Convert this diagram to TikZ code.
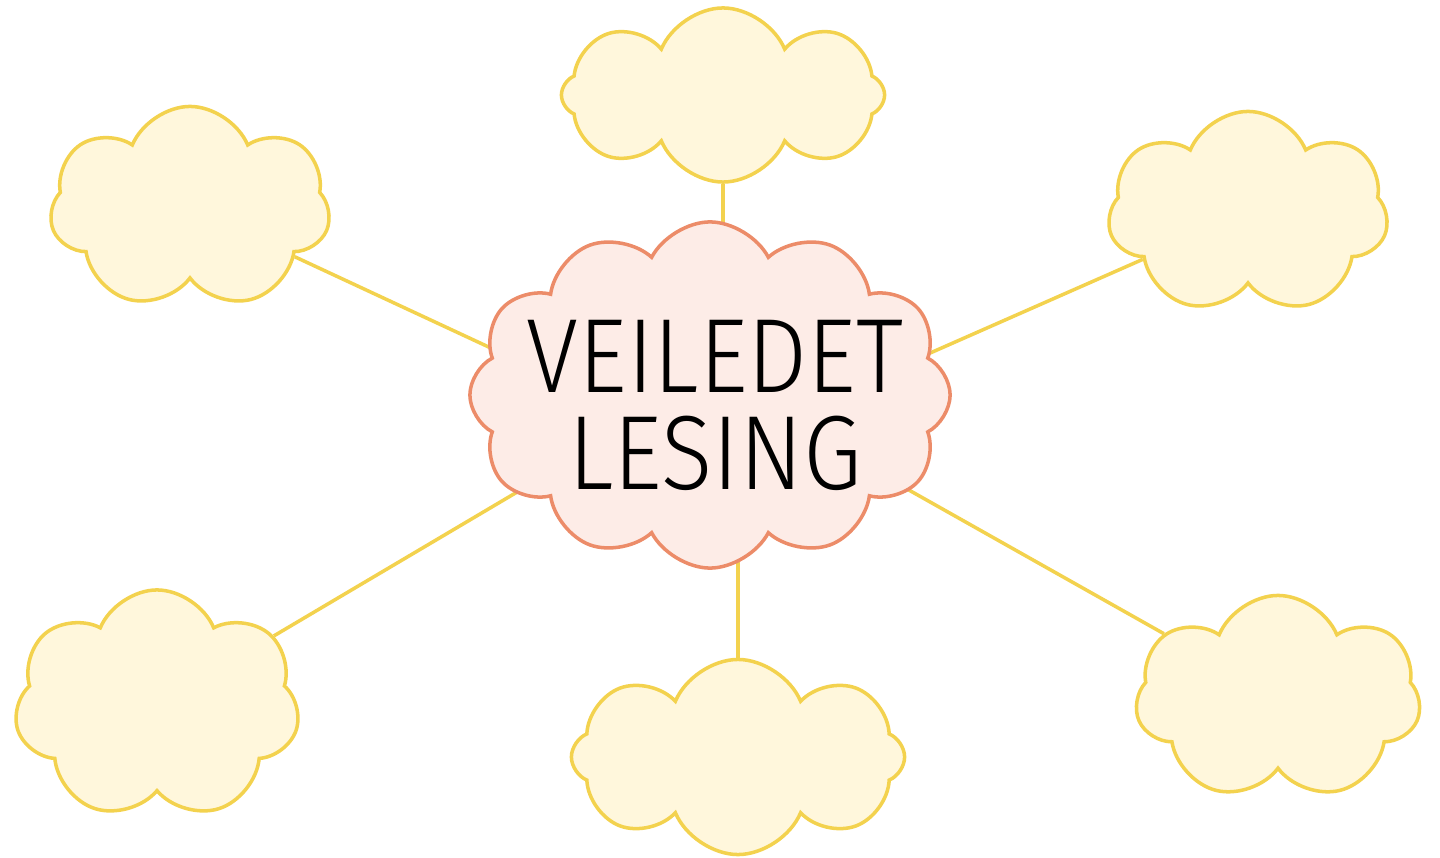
\documentclass[tikz,border=0pt]{standalone}
\usepackage{fontspec}
\newfontfamily\labelfont{Fira Sans Light}
\usetikzlibrary{shapes.symbols,backgrounds}
\definecolor{puffline}{RGB}{243,210,78}
\definecolor{pufffill}{RGB}{255,247,220}
\definecolor{hubline}{RGB}{236,140,105}
\definecolor{hubfill}{RGB}{253,236,231}
\tikzset{
  puff/.style={cloud, cloud puffs=#1, cloud puff arc=135, cloud ignores aspect,
    draw=puffline, fill=pufffill, line width=1pt, inner sep=0pt},
  puff/.default=7,
  hubcloud/.style={cloud, cloud puffs=12, cloud puff arc=125, cloud ignores aspect,
    draw=hubline, fill=hubfill, line width=1pt, inner sep=0pt,
    minimum width=4.8cm, minimum height=3.46cm},
  spoke/.style={draw=puffline, line width=1pt},
  titletext/.style={align=center, text=black, inner sep=0pt,
    font=\labelfont\fontsize{30}{27.6}\selectfont},
}

\begin{document}
\begin{tikzpicture}[x=0.01cm, y=-0.01cm]
  \useasboundingbox (0,0) rectangle (1440,858);
  % central cloud
  \node[hubcloud] (hub) at (710,395) {};
  \node[titletext] (title) at (715,405)
    {\scalebox{0.9}[1]{VEILEDET}\\\scalebox{0.9}[1]{LESING}};
  % outer clouds
  \node[puff=8, minimum width=3.23cm, minimum height=1.74cm, shape border rotate=10] (top) at (723,95) {};
  \node[puff, minimum width=2.8cm, minimum height=2.03cm, shape border rotate=20] (nw) at (190,208) {};
  \node[puff, minimum width=2.8cm, minimum height=2.03cm, shape border rotate=5] (ne) at (1248,213) {};
  \node[puff, minimum width=2.85cm, minimum height=2.3cm, shape border rotate=35] (sw) at (157,705) {};
  \node[puff=8, minimum width=3.33cm, minimum height=1.95cm, shape border rotate=25] (south) at (738,757) {};
  \node[puff, minimum width=2.85cm, minimum height=2.05cm, shape border rotate=50] (se) at (1278,698) {};
  % spokes
  \coordinate (hubhigh) at (710,450);
  \coordinate (hublow) at (710,378);
  \begin{scope}[on background layer]
    \draw[spoke] (top) -- (top |- hub);
    \draw[spoke] (south) -- (south |- hub);
    \draw[spoke] (nw) -- (hubhigh);
    \draw[spoke] (ne) -- (hubhigh);
    \draw[spoke] (sw) -- (hublow);
    \draw[spoke] (se) -- (hublow);
  \end{scope}
\end{tikzpicture}
\end{document}
